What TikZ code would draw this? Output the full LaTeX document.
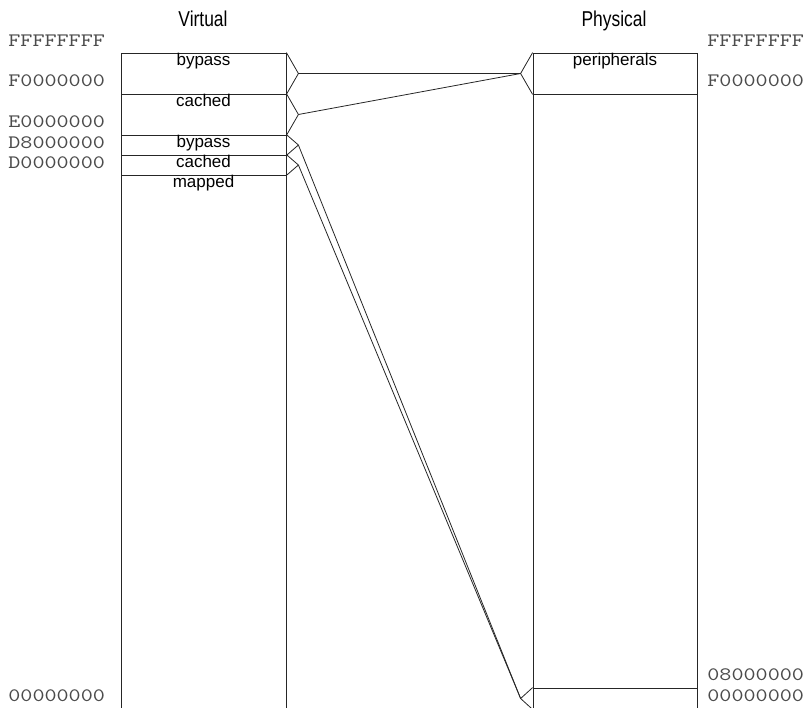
\documentclass[tikz,border=0pt]{standalone}
\usepackage{fontspec}
\setmainfont{Liberation Sans}
\newfontfamily\titlefont[FakeStretch=0.81]{Liberation Sans}
\newfontfamily\hexfont[FakeStretch=1.21]{lmmono10-regular.otf}
\usepackage{tikz}
\usetikzlibrary{calc}

\begin{document}
\begin{tikzpicture}[x=1pt,y=-1pt,line width=0.8pt,
  vcell/.style={draw=black!85,minimum width=165pt,inner sep=0pt},
  pcell/.style={draw=black!85,minimum width=164pt,inner sep=0pt},
  addr/.style={font=\hexfont\fontsize{19}{19}\selectfont,text=black!70,anchor=west,inner sep=0pt},
  title/.style={font=\titlefont\fontsize{21.5}{21.5}\selectfont,anchor=base,inner sep=0pt},
  lbl/.style={font=\fontsize{17}{17}\selectfont,anchor=north,inner sep=0pt}]
  \useasboundingbox (0,0) rectangle (805,707);
  % ── Titles ─────────────────────────────────────────
  \node[title] (virt) at (203,26.5) {Virtual};
  \node[title] (phys) at (614,26.5) {Physical};
  % ── Virtual map (cells stacked top to bottom) ──────
  \node[vcell,minimum height=41pt]  (vbyp1)  at (203.5,73.5)  {};
  \node[vcell,minimum height=41pt]  (vcach1) at (203.5,114.5) {};
  \node[vcell,minimum height=20pt]  (vbyp2)  at (203.5,145)   {};
  \node[vcell,minimum height=20pt]  (vcach2) at (203.5,165)   {};
  \node[vcell,minimum height=540pt] (vmap)   at (203.5,445)   {};
  \node[lbl] (tbyp1)  at (vbyp1.north)  {bypass};
  \node[lbl] (tcach1) at (vcach1.north) {cached};
  \node[lbl] (tbyp2)  at (vbyp2.north)  {bypass};
  \node[lbl] (tcach2) at (vcach2.north) {cached};
  \node[lbl] (tmap)   at (vmap.north)   {mapped};
  % ── Physical map ───────────────────────────────────
  \node[pcell,minimum height=41pt]  (pper) at (615,73.5)  {};
  \node[pcell,minimum height=594pt] (pmid) at (615,391)   {};
  \node[pcell,minimum height=21pt]  (plow) at (615,698.5) {};
  \node[lbl] (tper) at (pper.north) {peripherals};
  % ── Brackets (virtual right side, physical left side)
  \draw[black!85] (vbyp1.north east)  -- ($(vbyp1.east)+(12,0)$)  coordinate (kb1) -- (vbyp1.south east);
  \draw[black!85] (vcach1.north east) -- ($(vcach1.east)+(12,0)$) coordinate (kc1) -- (vcach1.south east);
  \draw[black!85] (vbyp2.north east)  -- ($(vbyp2.east)+(12,0)$)  coordinate (kb2) -- (vbyp2.south east);
  \draw[black!85] (vcach2.north east) -- ($(vcach2.east)+(12,0)$) coordinate (kc2) -- (vcach2.south east);
  \draw[black!85] (pper.north west) -- ($(pper.west)+(-12,0)$) coordinate (kp) -- (pper.south west);
  \draw[black!85] (plow.north west) -- ($(plow.west)+(-12,0)$) coordinate (kl) -- (plow.south west);
  % ── Mappings ───────────────────────────────────────
  \draw[black!85] (kb1) -- (kp);
  \draw[black!85] (kc1) -- (kp);
  \draw[black!85] (kb2) -- (kl);
  \draw[black!85] (kc2) -- (kl);
  % ── Addresses ──────────────────────────────────────
  \node[addr] (af)  at (8,41)    {FFFFFFFF};
  \node[addr] (af0) at (8,81)    {F0000000};
  \node[addr] (ae0) at (8,122)   {E0000000};
  \node[addr] (ad8) at (8,143)   {D8000000};
  \node[addr] (ad0) at (8,163)   {D0000000};
  \node[addr] (a00) at (8,696)   {00000000};
  \node[addr] (bf)  at (707,41)  {FFFFFFFF};
  \node[addr] (bf0) at (707,81)  {F0000000};
  \node[addr] (b08) at (707,675) {08000000};
  \node[addr] (b00) at (707,696) {00000000};
\end{tikzpicture}
\end{document}
